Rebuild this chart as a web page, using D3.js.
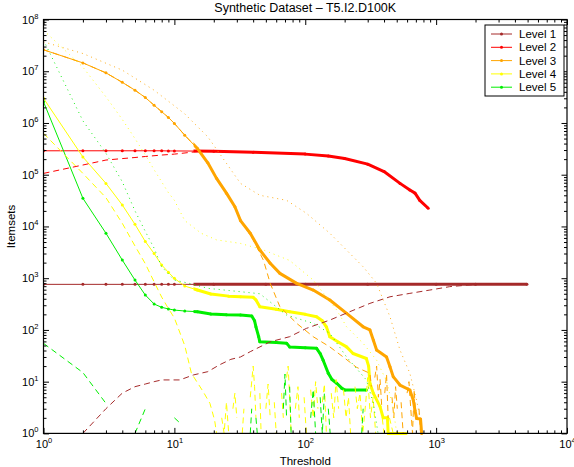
<!DOCTYPE html>
<html>
<head>
<meta charset="utf-8">
<script src="https://cdn.jsdelivr.net/npm/d3@7"></script>
<style>
  html, body { margin: 0; padding: 0; background: #fff; }
  svg { display: block; font-family: "Liberation Sans", Arial, Helvetica, sans-serif; }
</style>
</head>
<body>
<svg id="chart" width="574" height="467"></svg>
<script>
// Itemset counts per level against support threshold (log-log)
const levelNames = ["Level 1", "Level 2", "Level 3", "Level 4", "Level 5"];

// [threshold, itemsets]; a count of 0 leaves a gap on the log axis
const level1Solid = [[1,760],[2,760],[3,760],[4,760],[5,760],[6,760],[7,760],[8,760],[9,760],[10,760],
  [20,760],[50,760],[100,760],[300,760],[1000,760],[2000,760],[4940,760]];
const level2Solid = [[1,2.9e5],[2,2.9e5],[3,2.9e5],[4,2.9e5],[5,2.9e5],[6,2.9e5],[7,2.9e5],[8,2.9e5],[9,2.88e5],[10,2.88e5],
  [20,2.85e5],[40,2.72e5],[100,2.5e5],[150,2.3e5],[200,2.05e5],[300,1.6e5],[400,1.15e5],[530,6.8e4],[630,5.05e4],[690,4.4e4],[750,3.2e4],[870,2.25e4]];
const level3Solid = [[1,2.6e7],[2,1.45e7],[3,9.3e6],[4,6.1e6],[5,4.3e6],[6,3.1e6],[7,2.2e6],[8,1.65e6],[9,1.28e6],[10,9.8e5],
  [12,5.8e5],[15,3.2e5],[18,1.7e5],[21,8.5e4],[25,4.4e4],[29,2.4e4],[32,1.3e4],[38,7.4e3],[45,3.5e3],[54,1.94e3],[64,1.24e3],
  [86,795],[115,590],[154,378],[207,209],[277,115],[312,100],[331,64],[351,41],[418,30],[444,19.4],[470,12.5],[529,8.6],
  [630,6.9],[669,4.4],[689,2.8],[709,1.95],[760,1.9],[775,1]];
const level4Solid = [[1,3.0e6],[2,2.2e5],[3,6.8e4],[4,2.6e4],[5,1.1e4],[6,5.1e3],[7,3.0e3],[8,1.8e3],[9,1.3e3],[10,993],
  [12,705],[15,590],[19,494],[26,450],[32,437],[40,427],[42,380],[45,281],[60,250],[76,225],[100,200],[122,180],[135,150],
  [145,115],[154,74],[180,58],[207,47],[232,35],[293,28],[305,20],[312,9.3],[331,6],[373,3.3],[394,2],[425,2],[430,1],[590,1]];
const level5Solid = [[1,2.57e6],[2,3.5e4],[3,7.4e3],[4,2.24e3],[5,920],[6,472],[7,317],[8,273],[9,255],[10,242],
  [12,232],[15,225],[19,203],[25,196],[32,194],[39,186],[41,150],[42,115],[44,75],[45,59],[60,57],[72,55],[76,47],[100,45],
  [122,44],[130,35],[137,26],[150,14.5],[160,11],[174,9.3],[190,7.5],[201,6.9],[293,6.9]];

const level1Dashed = [[2,1],[3,3],[4,6],[5,8],[6,9],[7,10],[8,10.8],[11,10.8],[14,13.5],[18,15.6],[22,21],[27,27],[32,30],
  [38,38],[54,59],[76,74],[102,107],[154,155],[219,225],[312,326],[444,437],[630,509],[896,590],[1270,686],[2040,760],[4940,760]];
const level2Dashed = [[1,1.06e5],[2,1.54e5],[3,1.92e5],[4,2.05e5],[5,2.15e5],[6,2.25e5],[8,2.4e5],[10,2.5e5],[15,2.8e5],[20,2.87e5],
  [40,2.72e5],[100,2.5e5]];
const level3Dashed = [[1,2.6e7],[2,1.45e7],[3,9.3e6],[4,6.1e6],[5,4.3e6],[6,3.1e6],[7,2.2e6],[8,1.65e6],[9,1.28e6],[10,9.8e5],
  [12,5.8e5],[15,3.2e5],[18,1.7e5],[21,8.5e4],[25,4.4e4],[29,2.4e4],[32,1.3e4],[38,6.8e3],[40,5.5e3],[48,2.2e3],[54,795],
  [64,281],[86,134],[115,74],[154,47],[195,30],[246,19],[312,14.5],[320,8],[331,0],[340,12],[351,20],[362,5],[373,11],
  [385,3],[395,0],[405,6],[418,14],[430,2],[444,0],[460,5],[475,2],[490,8],[505,3],[520,0],[540,4],[560,1],[580,0],
  [600,6],[620,10],[640,3],[660,1],[680,7],[700,2],[720,0],[740,3],[760,1],[780,0]];
const level4Dashed = [[1,6.3e5],[2,1.06e5],[3,3.6e4],[4,1.15e4],[5,4.2e3],[6,1.9e3],[7,850],[8,430],[9,260],[10,170],
  [12,50],[13.5,14.5],[16.6,6.4],[18.7,3.8],[20.3,1.8],[21,1],[22,0],[23,2],[24,1],[25,4],[26,1],[27,0],[28,3],[29,6],
  [30,2],[31,0],[33,1],[34,3],[36,0],[38,5],[40,20],[41,8],[42,2],[43,0],[45,6],[46,1],[48,0],[50,3],[52,9],[54,2],[56,0],
  [58,4],[60,1],[63,0],[66,6],[68,2],[70,0],[72,12],[74,20],[76,5],[78,1],[80,0],[84,3],[88,8],[90,2],[94,0],[98,5],
  [102,1],[106,0],[110,7],[115,2],[120,10],[125,3],[130,0],[135,4],[140,9],[145,1],[150,0],[158,6],[165,2],[172,11],
  [180,3],[188,0],[196,7],[205,2],[214,5],[222,1],[230,0],[240,8],[250,3],[262,6],[275,1],[290,4],[300,12],[315,2],
  [330,5],[345,1],[360,0],[380,3],[400,1],[420,0],[440,2],[470,1],[500,0]];
const level5Dashed = [[1,55],[2,15],[3,3.8],[4,0],[5,1],[6,3],[7,0],[10,2],[11,1.6],[12,0],
  [38,1],[39,3],[40,0],[42,2],[43,1],[44,0],[68,3],[70,14],[72,2],[74,0],[76,8],[78,1],[80,0],
  [110,2],[115,7],[120,1],[125,0],[130,5],[135,1],[140,6],[145,0],[150,3],[155,1],[160,0],[270,1],[277,3],[285,0]];

const level3Dotted = [[1,3.7e7],[2,2.2e7],[4,1.05e7],[7,4.3e6],[12,1.5e6],[18,5.4e5],[25,1.66e5],[32,6.8e4],[45,4.0e4],
  [72,3.2e4],[102,1.8e4],[154,7.4e3],[277,1.66e3],[351,795],[444,180],[529,41],[630,14.5],[709,4.4],[775,1.35]];
const level4Dotted = [[1,6.2e7],[2,1.2e7],[3,3.2e6],[4,1.17e6],[5,5e5],[6,2.4e5],[7,1.25e5],[9,4.5e4],[10,3.2e4],[12,1.3e4],
  [16,7.4e3],[21,5.5e3],[32,4.7e3],[48,3.5e3],[76,2.2e3],[115,920],[174,242],[207,115],[277,55],[351,26],[420,10],[470,3],[500,1]];
const level5Dotted = [[1,4e7],[2,1.1e6],[3,2.6e5],[4,7.3e4],[5,2e4],[6,8e3],[7,3.8e3],[8,1.66e3],[10,920],[13,795],
  [18,637],[32,548],[45,500],[72,194],[115,134],[154,86],[207,30],[293,10.8],[330,4],[360,1]];

const xTickExponents = [0, 1, 2, 3, 4];
const yTickExponents = [0, 1, 2, 3, 4, 5, 6, 7, 8];

// ---- styling ----
const levelColors = ["#a52a2a", "#ff0000", "#ffa500", "#ffff00", "#00ee00"];
const plot = { left: 43.5, right: 567, top: 19.5, bottom: 433.4 };

const svg = d3.select("#chart");
const x = d3.scaleLog().domain([1, 1e4]).range([plot.left, plot.right]);
const y = d3.scaleLog().domain([1, 1e8]).range([plot.bottom, plot.top]);

const defs = svg.append("defs");
defs.append("clipPath").attr("id", "plotClip").append("rect")
  .attr("x", plot.left).attr("y", plot.top - 2)
  .attr("width", plot.right - plot.left).attr("height", plot.bottom - plot.top + 4);
// beyond this threshold the per-threshold markers merge into a solid band
defs.append("clipPath").attr("id", "denseClip").append("rect")
  .attr("x", x(14)).attr("y", plot.top - 2)
  .attr("width", plot.right - x(14)).attr("height", plot.bottom - plot.top + 4);

const line = d3.line()
  .defined(d => d[1] > 0)
  .x(d => x(d[0]))
  .y(d => y(d[1]));

const marks = svg.append("g").attr("clip-path", "url(#plotClip)");

const solids = [level1Solid, level2Solid, level3Solid, level4Solid, level5Solid];
const dashed = [level1Dashed, level2Dashed, level3Dashed, level4Dashed, level5Dashed];
const dotted = [null, null, level3Dotted, level4Dotted, level5Dotted];

solids.forEach((s, i) => {
  const g = marks.append("g");
  g.append("path").datum(s).attr("d", line)
    .attr("fill", "none").attr("stroke", levelColors[i]).attr("stroke-width", 1);
  g.append("path").datum(s).attr("d", line).attr("clip-path", "url(#denseClip)")
    .attr("fill", "none").attr("stroke", levelColors[i]).attr("stroke-width", 3)
    .attr("stroke-linejoin", "round");
  g.selectAll("circle").data(s.filter(d => d[1] > 0)).join("circle")
    .attr("cx", d => x(d[0])).attr("cy", d => y(d[1])).attr("r", 1.5)
    .attr("fill", levelColors[i]);
});
dashed.forEach((s, i) => {
  marks.append("path").datum(s).attr("d", line)
    .attr("fill", "none").attr("stroke", levelColors[i]).attr("stroke-width", 1)
    .attr("stroke-dasharray", "6,4");
});
dotted.forEach((s, i) => {
  if (!s) return;
  marks.append("path").datum(s).attr("d", line)
    .attr("fill", "none").attr("stroke", levelColors[i]).attr("stroke-width", 0.9)
    .attr("stroke-dasharray", "1,4");
});

// ---- axes: inward ticks on all four sides ----
const xMajor = xTickExponents.map(e => Math.pow(10, e));
const yMajor = yTickExponents.map(e => Math.pow(10, e));
const minorsOf = (majors) => {
  const out = [];
  majors.slice(0, -1).forEach(m => { for (let k = 2; k <= 9; k++) out.push(m * k); });
  return out;
};
const xMinor = minorsOf(xMajor);
const yMinor = minorsOf(yMajor);

function styleAxis(g) {
  g.select(".domain").remove();
  g.selectAll(".tick line").attr("stroke", "#000").attr("stroke-width", 1);
}
function superscriptLabels(g) {
  g.selectAll(".tick text").each(function(d) {
    const t = d3.select(this);
    t.text(null).attr("fill", "#000").attr("font-size", 11)
      .attr("font-family", "'Liberation Sans', Arial, Helvetica, sans-serif");
    t.append("tspan").text("10");
    t.append("tspan").text(Math.round(Math.log10(d))).attr("font-size", 7.5).attr("dy", -5);
  });
}

const axes = svg.append("g");
axes.append("g").attr("transform", `translate(0,${plot.bottom})`)
  .call(d3.axisBottom(x).tickValues(xMinor).tickSize(-3).tickFormat("")).call(styleAxis);
axes.append("g").attr("transform", `translate(0,${plot.bottom})`)
  .call(d3.axisBottom(x).tickValues(xMajor).tickSize(-5.5).tickPadding(7).tickFormat(() => "10"))
  .call(styleAxis).call(superscriptLabels);
axes.append("g").attr("transform", `translate(0,${plot.top})`)
  .call(d3.axisTop(x).tickValues(xMinor).tickSize(-3).tickFormat("")).call(styleAxis);
axes.append("g").attr("transform", `translate(0,${plot.top})`)
  .call(d3.axisTop(x).tickValues(xMajor).tickSize(-5.5).tickFormat("")).call(styleAxis);

axes.append("g").attr("transform", `translate(${plot.left},0)`)
  .call(d3.axisLeft(y).tickValues(yMinor).tickSize(-3).tickFormat("")).call(styleAxis);
axes.append("g").attr("transform", `translate(${plot.left},0)`)
  .call(d3.axisLeft(y).tickValues(yMajor).tickSize(-5.5).tickPadding(5).tickFormat(() => "10"))
  .call(styleAxis).call(superscriptLabels);
axes.append("g").attr("transform", `translate(${plot.right},0)`)
  .call(d3.axisRight(y).tickValues(yMinor).tickSize(-3).tickFormat("")).call(styleAxis);
axes.append("g").attr("transform", `translate(${plot.right},0)`)
  .call(d3.axisRight(y).tickValues(yMajor).tickSize(-5.5).tickFormat("")).call(styleAxis);

svg.append("rect")
  .attr("x", plot.left).attr("y", plot.top)
  .attr("width", plot.right - plot.left).attr("height", plot.bottom - plot.top)
  .attr("fill", "none").attr("stroke", "#000").attr("stroke-width", 1.2);

// ---- titles ----
const cx = (plot.left + plot.right) / 2;
svg.append("text").attr("x", cx).attr("y", 12).attr("text-anchor", "middle")
  .attr("font-size", 12.5).text("Synthetic Dataset \u2013 T5.I2.D100K");
svg.append("text").attr("x", cx).attr("y", 465).attr("text-anchor", "middle")
  .attr("font-size", 11.5).text("Threshold");
svg.append("text").attr("transform", `translate(15,${(plot.top + plot.bottom) / 2}) rotate(-90)`)
  .attr("text-anchor", "middle").attr("font-size", 11.5).text("Itemsets");

// ---- legend ----
const legend = svg.append("g");
legend.append("rect").attr("x", 485).attr("y", 25).attr("width", 79).attr("height", 71)
  .attr("fill", "#fff").attr("stroke", "#000").attr("stroke-width", 1);
levelNames.forEach((name, i) => {
  const ly = 34 + i * 13.3;
  legend.append("line").attr("x1", 491).attr("x2", 512).attr("y1", ly).attr("y2", ly)
    .attr("stroke", levelColors[i]).attr("stroke-width", 1);
  legend.append("circle").attr("cx", 501.5).attr("cy", ly).attr("r", 1.5).attr("fill", levelColors[i]);
  legend.append("text").attr("x", 519).attr("y", ly).attr("dy", "0.36em")
    .attr("font-size", 11.5).text(name);
});
</script>
</body>
</html>
